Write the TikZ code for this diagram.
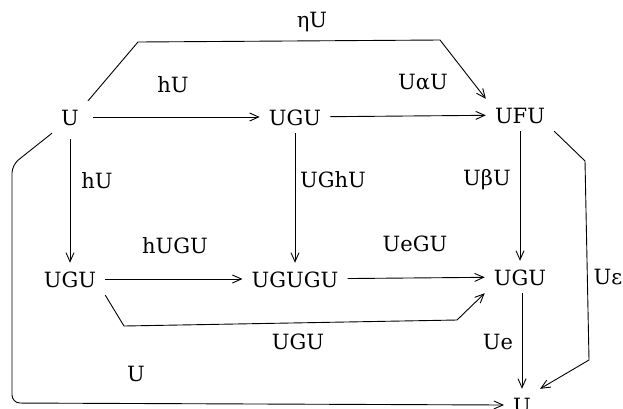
\documentclass[tikz,border=0pt]{standalone}
\usepackage{fontspec}
\setmainfont{DejaVu Serif}
\usetikzlibrary{arrows.meta}
\begin{document}
\begin{tikzpicture}[x=1pt,y=-1pt,
  obj/.style={font=\fontsize{21}{24}\selectfont, inner xsep=9pt, inner ysep=8pt, text height=16pt, text depth=0pt},
  lab/.style={font=\fontsize{21}{24}\selectfont, inner sep=0pt},
  ln/.style={line width=0.9pt, line join=round},
  arr/.style={ln, -{Straight Barb[length=9pt,width=8pt]}}]
\useasboundingbox (0,0) rectangle (623,408);
% objects
\node[obj] (U) at (70,117) {U};
\node[obj] (UGUt) at (295,117) {UGU};
\node[obj] (UFU) at (520,115) {UFU};
\node[obj] (UGUl) at (70,279) {UGU};
\node[obj] (UGUGU) at (295,279) {UGUGU};
\node[obj] (UGUr) at (520,277) {UGU};
\node[obj] (Ub) at (522,405) {U};
% bends
\coordinate (e1) at (138,42);
\coordinate (e2) at (440,40);
\coordinate (g1) at (124,326);
\coordinate (g2) at (457,320);
\coordinate (u1) at (12,165);
\coordinate (u2) at (12,403);
\coordinate (p1) at (585,161);
\coordinate (p2) at (589,360);
% top row
\draw[arr, shorten <=5pt] (U) -- (UGUt);
\draw[arr] (UGUt) -- (UFU);
% eta
\draw[arr] (U.north east) -- (e1) -- (e2) -- (UFU.north west);
% verticals
\draw[arr, shorten <=6pt] (U) -- (UGUl);
\draw[arr] (UGUt) -- (UGUGU);
\draw[arr] (UFU) -- (UGUr);
% bottom row
\draw[arr] (UGUl) -- (UGUGU);
\draw[arr] (UGUGU) -- (UGUr);
% UGU under
\draw[arr] (UGUl.south east) -- (g1) -- (g2) -- (UGUr.south west);
% Ue
\draw[arr] (UGUr.south -| Ub) -- (Ub);
% U around left
\draw[arr, rounded corners=8pt] (U.south west) -- (u1) -- (u2) -- (Ub.west);
% U epsilon
\draw[arr] (UFU.south east) -- (p1) -- (p2) -- (Ub.north east);
% labels
\node[lab] (l1) at (312,22) {ηU};
\node[lab] (l2) at (173,85) {hU};
\node[lab] (l3) at (423,82) {UαU};
\node[lab] (l4) at (97,181) {hU};
\node[lab] (l5) at (333,180) {UGhU};
\node[lab] (l6) at (487,180) {UβU};
\node[lab] (l7) at (175,246) {hUGU};
\node[lab] (l8) at (415,244) {UeGU};
\node[lab] (l9) at (298,342) {UGU};
\node[lab] (l10) at (498,342) {Ue};
\node[lab] (l11) at (136,374) {U};
\node[lab] (l12) at (608,277) {Uε};
\end{tikzpicture}
\end{document}
